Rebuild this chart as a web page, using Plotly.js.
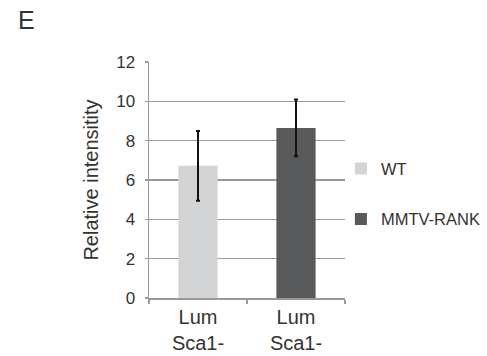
<!DOCTYPE html>
<html><head><meta charset="utf-8">
<script src="https://cdn.plot.ly/plotly-3.0.1.min.js"></script>
<style>html,body{margin:0;padding:0;background:#fff;}#chart{width:487px;height:356px;}</style>
</head><body><div id="chart"></div>
<script>
var categories = ['Lum<br>Sca1-'];
var seriesNames = ['WT', 'MMTV-RANK'];
var wtValues = [6.72];
var wtErrors = [1.77];
var rankValues = [8.65];
var rankErrors = [1.44];
var yTicks = [0, 2, 4, 6, 8, 10, 12];

var cats2 = ['a', 'b'];
var traces = [
  {type:'bar', name:seriesNames[0], x:[cats2[0]], y:wtValues, width:0.4,
   marker:{color:'#d3d4d6'}, legendgroup:'g1',
   error_y:{type:'data', array:wtErrors, visible:true, color:'#111', thickness:2, width:2}},
  {type:'bar', name:seriesNames[1], x:[cats2[1]], y:rankValues, width:0.4,
   marker:{color:'#58595b'}, legendgroup:'g2',
   error_y:{type:'data', array:rankErrors, visible:true, color:'#111', thickness:2, width:2}}
];
var layout = {
  width:487, height:356,
  margin:{l:149, r:142, t:62, b:58, autoexpand:false},
  paper_bgcolor:'#fff', plot_bgcolor:'#fff',
  font:{family:'Liberation Sans, Arial, sans-serif', color:'#333'},
  showlegend:true,
  legend:{xref:'container', yref:'container', x:0.700, xanchor:'left', y:0.575, yanchor:'top',
          traceorder:'grouped', tracegroupgap:26,
          font:{size:16.5, color:'#333'}, bgcolor:'rgba(0,0,0,0)'},
  xaxis:{type:'category', tickvals:cats2, ticktext:[categories[0], categories[0]],
         tickson:'boundaries', ticks:'outside', ticklen:4, tickcolor:'#999', tickwidth:1.5,
         showline:true, linecolor:'#999', linewidth:1.5, showgrid:false,
         tickfont:{size:20, color:'#333'}, range:[-0.5, 1.5]},
  yaxis:{range:[0,12], tickvals:yTicks, ticks:'outside', ticklen:3, tickcolor:'#999', tickwidth:1.5,
         showline:true, linecolor:'#999', linewidth:1.5,
         showgrid:true, gridcolor:'#999', gridwidth:1.5, zeroline:false,
         tickfont:{size:17, color:'#333'}, ticklabelstandoff:6,
         title:{text:'Relative intensitity', font:{size:20, color:'#333'}, standoff:12}},
  annotations:[{text:'E', xref:'paper', yref:'paper', x:-0.68, y:1.245, xanchor:'left', yanchor:'top',
                showarrow:false, font:{size:25, color:'#333'}}]
};
Plotly.newPlot('chart', traces, layout, {displayModeBar:false, staticPlot:true});
</script></body></html>
